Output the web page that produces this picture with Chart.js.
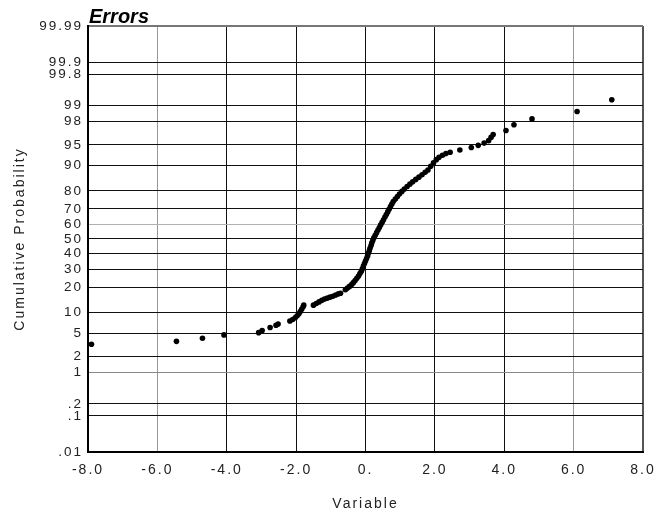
<!DOCTYPE html>
<html>
<head>
<meta charset="utf-8">
<script src="https://cdn.jsdelivr.net/npm/chart.js@4/dist/chart.umd.min.js"></script>
<style>
  html, body { margin: 0; padding: 0; background: #fff; }
  #wrap { position: relative; width: 659px; height: 516px; }
</style>
</head>
<body>
<div id="wrap"><canvas id="c"></canvas></div>
<script>
// ---- Data ----
const TITLE = "Errors";
const X_TITLE = "Variable";
const Y_TITLE = "Cumulative Probability";

const xTickValues = [-8, -6, -4, -2, 0, 2, 4, 6, 8];
const xTickLabels = ["-8.0", "-6.0", "-4.0", "-2.0", "0.", "2.0", "4.0", "6.0", "8.0"];

const yTickProbs  = [0.01, 0.1, 0.2, 1, 2, 5, 10, 20, 30, 40, 50, 60, 70, 80, 90, 95, 98, 99, 99.8, 99.9, 99.99];
const yTickLabels = [".01", ".1", ".2", "1", "2", "5", "10", "20", "30", "40", "50", "60", "70", "80", "90", "95", "98", "99", "99.8", "99.9", "99.99"];

// error values (x) and their cumulative probability in percent (y)
const errorValues = [
  -7.90, -5.45, -4.70, -4.08, -3.08, -2.98, -2.75, -2.58, -2.52, -2.18,
  -2.10, -2.02, -1.97, -1.92, -1.88, -1.84, -1.80, -1.78, -1.50, -1.42,
  -1.34, -1.26, -1.18, -1.10, -1.02, -0.94, -0.86, -0.78, -0.72, -0.58,
  -0.52, -0.46, -0.40, -0.35, -0.30, -0.25, -0.20, -0.16, -0.12, -0.09,
  -0.06, -0.03, 0.00, 0.03, 0.06, 0.08, 0.11, 0.13, 0.16, 0.18,
  0.21, 0.24, 0.28, 0.32, 0.36, 0.40, 0.44, 0.48, 0.52, 0.56,
  0.60, 0.64, 0.68, 0.72, 0.76, 0.80, 0.86, 0.92, 0.98, 1.05,
  1.12, 1.20, 1.28, 1.36, 1.45, 1.54, 1.63, 1.72, 1.80, 1.88,
  1.96, 2.04, 2.12, 2.22, 2.32, 2.44, 2.72, 3.05, 3.25, 3.42,
  3.55, 3.62, 3.68, 4.05, 4.28, 4.80, 6.10, 7.10
];
const cumulativePct = [
  3.3, 3.7, 4.15, 4.7, 5.1, 5.5, 6.1, 6.6, 6.9, 7.6,
  8.0, 8.5, 9.0, 9.6, 10.3, 11.0, 11.8, 12.4, 12.4, 13.0,
  13.6, 14.2, 14.7, 15.1, 15.5, 15.9, 16.4, 16.9, 17.2, 18.8,
  19.6, 20.4, 21.3, 22.3, 23.4, 24.6, 25.9, 27.3, 28.7, 30.2,
  31.8, 33.4, 35.0, 36.7, 38.4, 40.1, 41.9, 43.6, 45.4, 47.2,
  49.0, 50.8, 52.6, 54.4, 56.2, 58.0, 59.8, 61.5, 63.2, 64.9,
  66.6, 68.2, 69.8, 71.4, 72.9, 74.3, 75.7, 77.1, 78.4, 79.7,
  80.9, 82.0, 83.1, 84.1, 85.1, 86.0, 86.9, 87.8, 88.6, 89.8,
  90.8, 91.7, 92.3, 92.8, 93.2, 93.5, 94.0, 94.5, 94.9, 95.3,
  95.7, 96.2, 96.6, 97.1, 97.7, 98.2, 98.7, 99.25
];

// ---- normal probability transform (inverse normal CDF, Acklam) ----
function probit(p) {
  const a = [-3.969683028665376e+01, 2.209460984245205e+02, -2.759285104469687e+02, 1.383577518672690e+02, -3.066479806614716e+01, 2.506628277459239e+00];
  const b = [-5.447609879822406e+01, 1.615858368580409e+02, -1.556989798598866e+02, 6.680131188771972e+01, -1.328068155288572e+01];
  const c = [-7.784894002430293e-03, -3.223964580411365e-01, -2.400758277161838e+00, -2.549732539343734e+00, 4.374664141464968e+00, 2.938163982698783e+00];
  const d = [7.784695709041462e-03, 3.224671290700398e-01, 2.445134137142996e+00, 3.754408661907416e+00];
  const pl = 0.02425, ph = 1 - pl;
  let q, r;
  if (p < pl) {
    q = Math.sqrt(-2 * Math.log(p));
    return (((((c[0]*q+c[1])*q+c[2])*q+c[3])*q+c[4])*q+c[5]) / ((((d[0]*q+d[1])*q+d[2])*q+d[3])*q+1);
  }
  if (p <= ph) {
    q = p - 0.5; r = q * q;
    return (((((a[0]*r+a[1])*r+a[2])*r+a[3])*r+a[4])*r+a[5])*q / (((((b[0]*r+b[1])*r+b[2])*r+b[3])*r+b[4])*r+1);
  }
  q = Math.sqrt(-2 * Math.log(1 - p));
  return -(((((c[0]*q+c[1])*q+c[2])*q+c[3])*q+c[4])*q+c[5]) / ((((d[0]*q+d[1])*q+d[2])*q+d[3])*q+1);
}

const yMin = probit(yTickProbs[0] / 100);
const yMax = probit(yTickProbs[yTickProbs.length - 1] / 100);
const points = errorValues.map((x, i) => ({ x: x, y: probit(cumulativePct[i] / 100) }));

const FONT = '"Liberation Sans", Arial, Helvetica, sans-serif';

// grid styling
function yGridColor(ctx) {
  const lbl = yTickLabels[ctx.index];
  if (lbl === "99.99") return "#777";
  if (lbl === ".01") return "rgba(0,0,0,0)";
  if (lbl === "60") return "#b0b0b0";
  if (lbl === "1") return "#888";
  return "#111";
}
function yGridWidth(ctx) {
  const lbl = yTickLabels[ctx.index];
  return lbl === "99.99" ? 2 : 1;
}
function xGridColor(ctx) {
  const lbl = xTickLabels[ctx.index];
  if (lbl === "-8.0") return "rgba(0,0,0,0)";
  if (lbl === "-6.0" || lbl === "6.0") return "#999";
  if (lbl === "8.0") return "#555";
  return "#111";
}
function xGridWidth(ctx) {
  return xTickLabels[ctx.index] === "8.0" ? 2 : 1;
}

const spacingPlugin = {
  id: "spacing",
  beforeLayout(chart) { chart.ctx.letterSpacing = "2px"; },
  beforeDraw(chart) { chart.ctx.letterSpacing = "2px"; },
  afterDraw(chart) {
    const ctx = chart.ctx;
    ctx.save();
    ctx.letterSpacing = "0px";
    ctx.font = 'italic bold 20px ' + FONT;
    ctx.fillStyle = "#000";
    ctx.textAlign = "left";
    ctx.textBaseline = "alphabetic";
    ctx.fillText(TITLE, chart.chartArea.left + 1, 23);
    ctx.restore();
  }
};

new Chart(document.getElementById("c"), {
  type: "scatter",
  data: {
    datasets: [{
      label: TITLE,
      data: points,
      backgroundColor: "#000",
      borderColor: "#000",
      borderWidth: 0,
      pointRadius: 2.8,
      pointHoverRadius: 2.8
    }]
  },
  options: {
    responsive: true,
    maintainAspectRatio: false,
    animation: false,
    layout: { padding: { top: 26, right: 16, bottom: 0, left: 0 } },
    plugins: {
      legend: { display: false },
      tooltip: { enabled: false },
      title: { display: false }
    },
    scales: {
      x: {
        type: "linear",
        min: -8, max: 8,
        afterBuildTicks(axis) { axis.ticks = xTickValues.map(v => ({ value: v })); },
        afterFit(axis) { axis.height = 64; axis.paddingLeft = 0; axis.paddingRight = 0; },
        ticks: {
          autoSkip: false,
          maxRotation: 0,
          padding: 10,
          color: "#222",
          font: { family: FONT, size: 14 },
          callback: (v, i) => xTickLabels[i]
        },
        grid: { drawTicks: false, color: xGridColor, lineWidth: xGridWidth },
        border: { display: true, color: "#000", width: 2 },
        title: {
          display: true, text: X_TITLE, color: "#222",
          font: { family: FONT, size: 14 },
          padding: { top: 0, bottom: 3 }
        }
      },
      y: {
        type: "linear",
        min: yMin, max: yMax,
        afterBuildTicks(axis) { axis.ticks = yTickProbs.map(p => ({ value: probit(p / 100) })); },
        afterFit(axis) { axis.width = 88; axis.paddingTop = 0; axis.paddingBottom = 0; },
        ticks: {
          autoSkip: false,
          padding: 5,
          color: "#222",
          font: { family: FONT, size: 13.5 },
          callback: (v, i) => yTickLabels[i]
        },
        grid: { drawTicks: false, color: yGridColor, lineWidth: yGridWidth },
        border: { display: true, color: "#000", width: 2 },
        title: {
          display: true, text: Y_TITLE, color: "#222",
          font: { family: FONT, size: 14 },
          padding: { top: 12, bottom: 0 }
        }
      }
    }
  },
  plugins: [spacingPlugin]
});
</script>
</body>
</html>
